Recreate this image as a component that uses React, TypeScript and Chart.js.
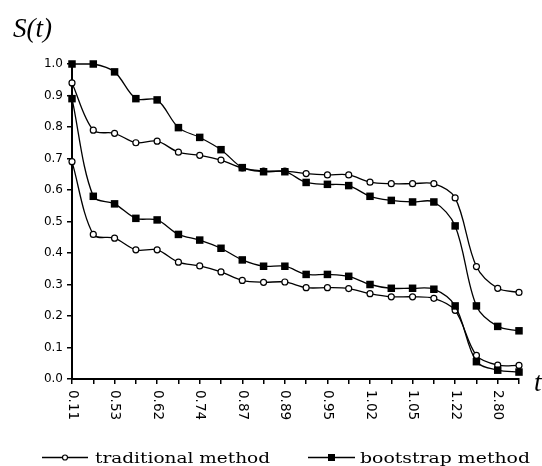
import React, { useEffect, useRef } from 'react';
import { Chart, registerables } from 'chart.js';

Chart.register(...registerables);

// ---- data ----
const categories = ['0.11', '', '0.53', '', '0.62', '', '0.74', '', '0.87', '', '0.89', '', '0.95', '', '1.02', '', '1.05', '', '1.22', '', '2.80', ''];

const traditionalUpper = [0.94, 0.79, 0.78, 0.75, 0.755, 0.72, 0.71, 0.695, 0.67, 0.66, 0.66, 0.652, 0.648, 0.648, 0.625, 0.62, 0.62, 0.62, 0.575, 0.357, 0.288, 0.275];
const traditionalLower = [0.69, 0.459, 0.447, 0.41, 0.41, 0.371, 0.359, 0.34, 0.313, 0.307, 0.308, 0.29, 0.29, 0.287, 0.271, 0.261, 0.261, 0.256, 0.218, 0.075, 0.044, 0.043];
const bootstrapUpper = [1.0, 1.0, 0.975, 0.89, 0.886, 0.798, 0.767, 0.728, 0.671, 0.658, 0.658, 0.624, 0.618, 0.614, 0.58, 0.567, 0.562, 0.562, 0.486, 0.232, 0.167, 0.153];
const bootstrapLower = [0.89, 0.58, 0.556, 0.51, 0.505, 0.459, 0.441, 0.415, 0.378, 0.358, 0.358, 0.332, 0.332, 0.326, 0.3, 0.288, 0.288, 0.285, 0.232, 0.055, 0.028, 0.022];

const yMin = 0;
const yMax = 1;
const yStep = 0.1;

const legendLabels = ['traditional method', 'bootstrap method'];
const yAxisTitle = 'S(t)';
const xAxisTitle = 't';

// ---- styling / layout ----
const W = 542;
const H = 466;
const AREA = { left: 72, right: 519, top: 64, bottom: 379 };

const decorations = {
  id: 'decorations',
  afterDraw(chart: any) {
    const ctx: CanvasRenderingContext2D = chart.ctx;
    const xs = chart.scales.x;
    ctx.save();
    ctx.fillStyle = '#000';
    ctx.strokeStyle = '#000';

    // rotated category labels (reading top to bottom)
    ctx.font = '13.5px "DejaVu Sans"';
    ctx.textAlign = 'left';
    ctx.textBaseline = 'middle';
    categories.forEach((lab, i) => {
      if (!lab) return;
      const px = xs.getPixelForValue(i);
      ctx.save();
      ctx.translate(px, AREA.bottom + 11);
      ctx.rotate(Math.PI / 2);
      ctx.fillText(lab, 0, 0);
      ctx.restore();
    });

    // axis titles
    ctx.font = 'italic 27px "Liberation Serif"';
    ctx.textBaseline = 'alphabetic';
    ctx.fillText(yAxisTitle, 13, 37);
    ctx.fillText(xAxisTitle, 534, 391);

    // legend
    const items = [
      { text: legendLabels[0], l0: 42, l1: 88, tx: 95, tw: 175, marker: 'circle' },
      { text: legendLabels[1], l0: 308, l1: 355, tx: 360, tw: 170, marker: 'rect' },
    ];
    const ly = 457.5;
    ctx.font = '15px "DejaVu Serif"';
    items.forEach((it) => {
      ctx.lineWidth = 1.5;
      ctx.beginPath();
      ctx.moveTo(it.l0, ly);
      ctx.lineTo(it.l1, ly);
      ctx.stroke();
      const mx = (it.l0 + it.l1) / 2;
      if (it.marker === 'circle') {
        ctx.beginPath();
        ctx.arc(mx, ly, 2.5, 0, Math.PI * 2);
        ctx.fillStyle = '#fff';
        ctx.fill();
        ctx.lineWidth = 1.2;
        ctx.stroke();
        ctx.fillStyle = '#000';
      } else {
        ctx.fillRect(mx - 3.5, ly - 3.5, 7, 7);
      }
      const m = ctx.measureText(it.text).width;
      ctx.save();
      ctx.translate(it.tx, 462.5);
      ctx.scale(it.tw / m, 1);
      ctx.fillText(it.text, 0, 0);
      ctx.restore();
    });
    ctx.restore();
  },
};

function circleSet(label: string, data: number[]) {
  return {
    label,
    data,
    borderColor: '#000',
    borderWidth: 1.3,
    pointStyle: 'circle',
    pointRadius: 3,
    pointBorderWidth: 1.2,
    pointBackgroundColor: '#fff',
    pointBorderColor: '#000',
    tension: 0.33,
    clip: false,
    fill: false,
  };
}

function squareSet(label: string, data: number[]) {
  return {
    label,
    data,
    borderColor: '#000',
    borderWidth: 1.3,
    pointStyle: 'rect',
    pointRadius: 5.3,
    pointBorderWidth: 0,
    pointBackgroundColor: '#000',
    pointBorderColor: '#000',
    tension: 0.33,
    clip: false,
    fill: false,
  };
}

export default function App() {
  const ref = useRef<HTMLCanvasElement | null>(null);

  useEffect(() => {
    if (!ref.current) return;
    const chart = new Chart(ref.current, {
      type: 'line',
      data: {
        labels: categories,
        datasets: [
          squareSet('bootstrap method (upper)', bootstrapUpper),
          circleSet('traditional method (upper)', traditionalUpper),
          squareSet('bootstrap method (lower)', bootstrapLower),
          circleSet('traditional method (lower)', traditionalLower),
        ] as any,
      },
      options: {
        animation: false,
        responsive: false,
        devicePixelRatio: 1,
        layout: { padding: { left: 0, top: AREA.top, right: W - AREA.right, bottom: 0 } },
        plugins: {
          legend: { display: false },
          tooltip: { enabled: false },
          title: { display: false },
        },
        scales: {
          x: {
            type: 'category',
            offset: false,
            border: { display: true, color: '#000', width: 2 },
            grid: { display: true, drawOnChartArea: false, drawTicks: true, tickLength: 5, color: '#000', lineWidth: 1.5 },
            ticks: { display: false, autoSkip: false },
            afterFit: (s: any) => { s.height = H - AREA.bottom; },
          },
          y: {
            min: yMin,
            max: yMax,
            border: { display: true, color: '#000', width: 2 },
            grid: { display: true, drawOnChartArea: false, drawTicks: true, tickLength: 5, color: '#000', lineWidth: 1.5 },
            ticks: {
              stepSize: yStep,
              padding: 4,
              color: '#000',
              font: { family: '"DejaVu Sans"', size: 12 },
              callback: (v: any) => Number(v).toFixed(1),
            },
            afterFit: (s: any) => { s.width = AREA.left; },
          },
        },
      } as any,
      plugins: [decorations],
    });
    return () => chart.destroy();
  }, []);

  return (
    <div style={{ position: 'absolute', left: 0, top: 0, width: W, height: H, background: '#fff' }}>
      <canvas ref={ref} width={W} height={H} style={{ display: 'block' }} />
    </div>
  );
}
